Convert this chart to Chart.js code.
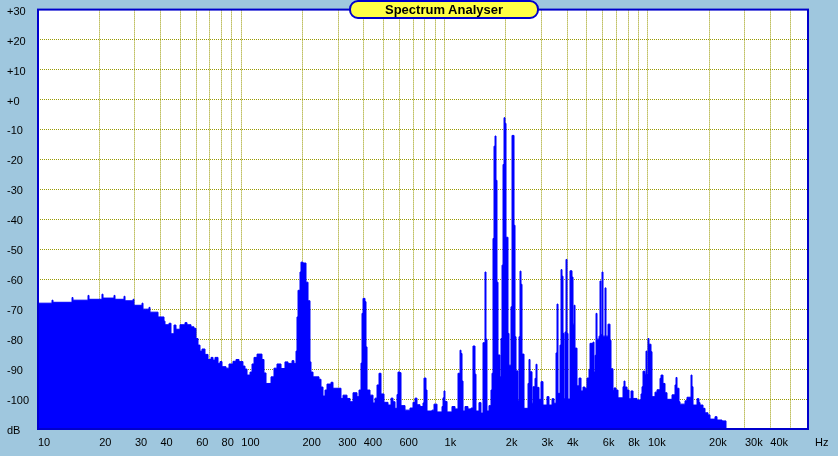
<!DOCTYPE html>
<html>
<head>
<meta charset="utf-8">
<title>Spectrum Analyser</title>
<script src="https://cdn.jsdelivr.net/npm/chart.js@4.4.0/dist/chart.umd.min.js"></script>
<style>
  html, body { margin: 0; padding: 0; background: #9fc7de; }
  #wrap { position: relative; width: 838px; height: 456px; font-family: "Liberation Sans", Arial, sans-serif; }
  #box { position: absolute; left: 0; top: 0; width: 838px; height: 456px; }
  #title {
    position: absolute; left: 349px; top: 0; width: 186px; height: 15px;
    border: 2px solid #0000cc; border-radius: 9px; background: #ffff44;
    font: bold 13px "Liberation Sans", Arial, sans-serif; line-height: 15px; text-align: center; color: #000;
  }
  #hz { position: absolute; left: 815px; top: 436px; font-size: 11px; line-height: 13px; color: #000; }
</style>
</head>
<body>
<div id="wrap">
  <div id="box"><canvas id="specChart"></canvas></div>
  <div id="title">Spectrum Analyser</div>
  <div id="hz">Hz</div>
</div>
<script>
// spectrum: frequency (Hz) and level (dB)
const freqHz = [
  10, 11.72, 11.85, 14.70, 14.86, 17.62, 17.82, 20.64, 20.88, 23.65,
  23.92, 26.49, 26.79, 29.33, 29.66, 32.48, 32.85, 35.16, 35.56, 38.93,
  41.67, 42.14, 44.09, 45.10, 46.66, 47.73, 49.94, 52.85, 54.07, 56.57,
  58.53, 59.87, 61.24, 62.64, 64.08, 66.29, 68.58, 70.95, 72.58, 74.24,
  76.81, 78.57, 80.37, 84.09, 87.00, 91.03, 94.18, 97.43,
  101.9, 104.3, 106.7, 110.4, 112.9, 115.5, 119.5, 126.4, 129.3, 132.3,
  140.0, 144.8, 149.8, 156.8, 164.0, 169.7, 177.6, 181.6, 185.8, 187.9,
  190.1, 194.4, 196.6, 201.1, 208.1, 212.9, 217.7, 220.2, 225.3, 241.1,
  246.6, 252.3, 258.1, 264.0, 276.2, 282.5, 309.3, 316.4, 331.1, 342.5,
  354.4, 370.8, 379.3, 388.0, 392.4, 396.9, 405.9, 410.6, 415.3, 429.6,
  444.5, 454.6, 465.1, 475.7, 486.6, 503.4, 526.8, 545.0, 557.4, 570.2,
  583.3, 589.9, 603.4, 610.3, 638.6, 675.8, 699.2, 715.2, 731.6, 756.9,
  783.0, 791.9, 810.1, 819.3, 867.0, 886.9, 917.6, 971.0, 982.1, 993.3,
  1004, 1028, 1087, 1125, 1164, 1191, 1204, 1218, 1232, 1260,
  1303, 1349, 1379, 1411, 1427, 1476, 1510, 1545, 1580, 1598,
  1616, 1653, 1691, 1711, 1730, 1750, 1770, 1790, 1810, 1831,
  1873, 1894, 1916, 1938, 1960, 1982, 2005, 2050, 2074, 2121,
  2146, 2195, 2220, 2245, 2296, 2323, 2349, 2376, 2403, 2458,
  2572, 2601, 2631, 2691, 2722, 2784, 2816, 2848, 2913, 2980,
  3048, 3189, 3262, 3375, 3453, 3532, 3572, 3613, 3695, 3737,
  3780, 3823, 3867, 3911, 3955, 4000, 4046, 4138, 4233, 4282,
  4330, 4380, 4480, 4583, 4688, 4795, 4905, 5017, 5132, 5191,
  5370, 5431, 5493, 5556, 5619, 5748, 5813, 5879, 5946, 6014,
  6152, 6222, 6364, 6510, 6584, 6735, 6812, 6968, 7128, 7543,
  7629, 7716, 7893, 8073, 8258, 8448, 8839, 9249, 9354, 9461,
  9677, 9788, 9899, 10011, 10125, 10357, 10475, 10837, 11086, 11469,
  11599, 11865, 12137, 12415, 13139, 13593, 13747, 13904, 14223, 14385,
  15223, 15572, 16293, 16479, 16666, 17439, 17839, 18042, 18665, 19093,
  19753, 20205, 21383, 21873, 23147, 24220
];

const levelDb = [
  -68, -67, -67.7, -66.1, -67, -65.4, -66.7, -65, -66.3, -65.4,
  -66.7, -65.7, -67.2, -66.7, -68.7, -68, -70, -69.4, -71, -72.6,
  -74, -75.2, -74.7, -78.2, -75.3, -76.7, -75.2, -74.5, -75.2, -75.9,
  -76.4, -79.8, -82, -84, -83.3, -85.1, -86.8, -86.1, -87, -86.1,
  -88.1, -87.5, -89.2, -89.7, -88.3, -87.4, -86.8, -87.5,
  -89, -90, -92, -91, -88.3, -86.1, -85, -86.8, -91.3, -94.8,
  -92.6, -89.7, -88.3, -89.8, -87.6, -88.1, -87.2, -88.1, -84, -72.6,
  -63.7, -57.6, -54.3, -54.6, -61, -67.2, -87.6, -91, -92.6, -93.4,
  -96, -99, -97, -95, -94.4, -96.4, -99.8, -98.7, -99.8, -100.9,
  -97.9, -99.2, -97, -88, -71.4, -66.4, -67.5, -82.6, -97, -98.7,
  -101.3, -99.7, -95.3, -91.4, -98.3, -101.1, -102, -99.7, -100.9, -103.1,
  -98.5, -91, -91.2, -102.2, -103.7, -103, -101.1, -99.7, -101.9, -102.5,
  -101.3, -93, -97, -104, -103.7, -101.7, -104.3, -102.5, -99.6, -97.3,
  -100.8, -104.3, -102.5, -103.3, -91.4, -83.7, -84.8, -94, -104, -102.5,
  -103.3, -103, -82.3, -91.7, -104, -101.2, -104.7, -81.2, -57.6, -80,
  -104, -102.2, -97, -91.4, -46.4, -15.6, -12.2, -27, -61, -85.3,
  -92.6, -79.8, -55.3, -21.7, -6.1, -8, -46, -78.1, -88.7, -69.2,
  -12, -42, -79.2, -90.6, -100.6, -79.2, -57.3, -61.7, -85, -103.1,
  -94.8, -86.8, -90.9, -101.4, -95.9, -93.1, -88.4, -96.1, -100.1, -94.2,
  -102, -99.2, -102, -99.9, -101.4, -84.6, -68.3, -98.1, -82, -56.8,
  -59, -78.1, -99.9, -77.6, -53.4, -78.1, -100, -57.2, -59.3, -75,
  -68.7, -83, -95.6, -93, -97.3, -96, -96.4, -93, -90.1, -81.4,
  -81, -91, -85.4, -71.4, -80, -79, -60.6, -78.5, -57.6, -79,
  -62.9, -79, -75, -80.4, -89.9, -97.1, -96.3, -97, -99.6, -95.9,
  -94, -96, -97, -99.9, -97.3, -99.8, -100.3, -98.3, -95.9, -90.7,
  -91.7, -84, -91.8, -79.8, -81.7, -84.2, -99.2, -97.7, -96.9, -93.1,
  -92, -94.8, -97.9, -100.1, -98.6, -95.3, -92.8, -96.4, -100.9, -101.7,
  -100.6, -99.4, -92, -95.9, -102, -99.9, -101.2, -102, -103.1, -104.6,
  -105.3, -106.7, -105.9, -107, -107.3, -110
];

// grid lines and labels
const gridHz = [
  10, 20, 30, 40, 50, 60, 70, 80, 90,
  100, 200, 300, 400, 500, 600, 700, 800, 900,
  1000, 2000, 3000, 4000, 5000, 6000, 7000, 8000, 9000,
  10000, 20000, 30000, 40000, 50000
];
const labelHz = [10, 20, 30, 40, 60, 80, 100, 200, 300, 400, 600, 1000, 2000, 3000, 4000, 6000, 8000, 10000, 20000, 30000, 40000];
const labelText = ['10', '20', '30', '40', '60', '80', '100', '200', '300', '400', '600', '1k', '2k', '3k', '4k', '6k', '8k', '10k', '20k', '30k', '40k'];
const dbTicks = [-110, -100, -90, -80, -70, -60, -50, -40, -30, -20, -10, 0, 10, 20, 30];
const dbText = ['dB', '-100', '-90', '-80', '-70', '-60', '-50', '-40', '-30', '-20', '-10', '+0', '+10', '+20', '+30'];

document.addEventListener("DOMContentLoaded", function () {
  Chart.defaults.font.family = '"Liberation Sans", Arial, sans-serif';
  Chart.defaults.font.size = 11;
  Chart.defaults.color = '#000';

  // white plot area and the blue frame round it
  const plotFrame = {
    id: 'plotFrame',
    beforeDraw(chart) {
      const a = chart.chartArea, ctx = chart.ctx;
      ctx.save();
      ctx.fillStyle = '#ffffff';
      ctx.fillRect(a.left, a.top, a.right - a.left, a.bottom - a.top);
      ctx.restore();
    },
    afterDraw(chart) {
      const a = chart.chartArea, ctx = chart.ctx;
      ctx.save();
      ctx.strokeStyle = '#0000cc';
      ctx.lineWidth = 2;
      ctx.strokeRect(a.left, a.top, a.right - a.left, a.bottom - a.top);
      ctx.restore();
    }
  };

  const gridOpts = { color: '#999900', lineWidth: 1, drawTicks: false };
  const borderOpts = { display: false, dash: [1, 1] };

  new Chart(document.getElementById("specChart"), {
    type: "line",
    data: {
      datasets: [{
        data: freqHz.map((f, i) => ({ x: f, y: levelDb[i] })),
        stepped: true,
        fill: 'start',
        backgroundColor: '#0000ff',
        borderColor: '#0000ff',
        borderWidth: 1,
        pointRadius: 0
      }]
    },
    options: {
      responsive: true,
      maintainAspectRatio: false,
      animation: false,
      layout: { padding: { left: 7, right: 30, top: 9, bottom: 0 } },
      plugins: { legend: { display: false }, tooltip: { enabled: false } },
      scales: {
        x: {
          type: 'logarithmic',
          min: 10,
          max: 61300,
          afterBuildTicks: s => { s.ticks = gridHz.map(v => ({ value: v })); },
          afterFit: s => { s.height = 27; },
          grid: gridOpts,
          border: borderOpts,
          ticks: {
            autoSkip: false, maxRotation: 0, minRotation: 0, align: 'start', padding: 7,
            callback: v => { const i = labelHz.indexOf(v); return i < 0 ? '' : labelText[i]; }
          }
        },
        y: {
          min: -110,
          max: 30,
          afterBuildTicks: s => { s.ticks = dbTicks.map(v => ({ value: v })); },
          afterFit: s => { s.width = 31; },
          grid: gridOpts,
          border: borderOpts,
          ticks: {
            crossAlign: 'far', labelOffset: 2,
            callback: v => dbText[dbTicks.indexOf(v)]
          }
        }
      }
    },
    plugins: [plotFrame]
  });
});
</script>
</body>
</html>
